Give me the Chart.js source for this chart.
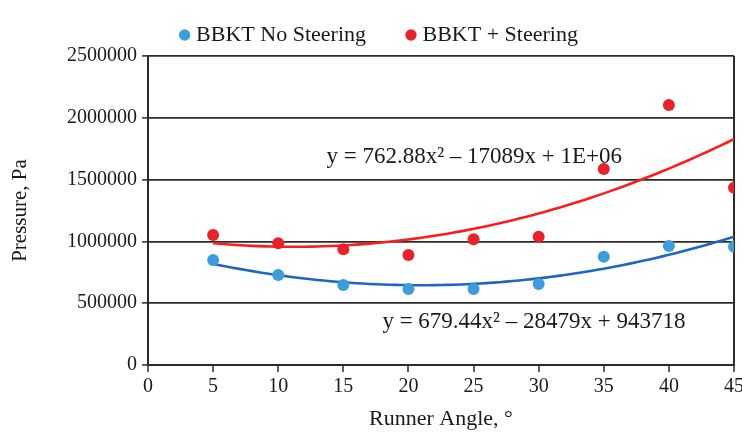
<!DOCTYPE html>
<html>
<head>
<meta charset="utf-8">
<script src="https://cdn.jsdelivr.net/npm/chart.js@4/dist/chart.umd.min.js"></script>
<style>
  html, body { margin: 0; padding: 0; background: #ffffff; }
  #wrap { width: 742px; height: 436px; }
</style>
</head>
<body>
<div id="wrap"><canvas id="chart" width="742" height="436"></canvas></div>
<script>
// Runner angle (degrees) at which pressure was measured
const runnerAngles = [5, 10, 15, 20, 25, 30, 35, 40, 45];

// Pressure, Pa
const pressureNoSteering = [850000, 728000, 647000, 615000, 615000, 655000, 876000, 963000, 957000];
const pressureSteering   = [1052000, 985000, 936000, 890000, 1017000, 1038000, 1586000, 2104000, 1435000];

// Quadratic trendline coefficients [c, b, a] for y = a*x^2 + b*x + c
const trendNoSteering = [943718, -28479, 679.44];
const trendSteering   = [1052000, -17089, 762.88];

// Trendline equation labels
const eqNoSteering = 'y = 679.44x\u00B2 \u2013 28479x + 943718';
const eqSteering   = 'y = 762.88x\u00B2 \u2013 17089x + 1E+06';

const seriesNames = ['BBKT No Steering', 'BBKT + Steering'];
const yTicks = [0, 500000, 1000000, 1500000, 2000000, 2500000];
const xTicks = [0, 5, 10, 15, 20, 25, 30, 35, 40, 45];

const BLUE_PT = '#3c9cdc';
const RED_PT = '#e8212b';
const BLUE_LN = '#1f66c2';
const RED_LN = '#fb1d1d';
const INK = '#2b2b2b';
const TEXT = '#1a1a1a';
const SERIF = "'Liberation Serif', 'Times New Roman', serif";

function points(xs, ys) {
  return xs.map((x, i) => ({ x: x, y: ys[i] }));
}

function trendPoints(coef, x0, x1) {
  const pts = [];
  for (let x = x0; x <= x1 + 1e-9; x += 0.5) {
    pts.push({ x: x, y: coef[0] + coef[1] * x + coef[2] * x * x });
  }
  return pts;
}

const xFirst = runnerAngles[0];
const xLast = runnerAngles[runnerAngles.length - 1];

// Equation text, anchored in data coordinates
const equationLabels = {
  id: 'equationLabels',
  afterDatasetsDraw(chart) {
    const { ctx, scales: { x, y } } = chart;
    ctx.save();
    ctx.font = '23px ' + SERIF;
    ctx.fillStyle = TEXT;
    ctx.textBaseline = 'middle';
    ctx.textAlign = 'left';
    ctx.fillText(eqSteering, x.getPixelForValue(13.7), y.getPixelForValue(1683000));
    ctx.fillText(eqNoSteering, x.getPixelForValue(18.0), y.getPixelForValue(348000));
    ctx.restore();
  }
};

const baseLabels = Chart.defaults.plugins.legend.labels.generateLabels;

new Chart(document.getElementById('chart'), {
  type: 'scatter',
  data: {
    datasets: [
      {
        label: seriesNames[0],
        data: points(runnerAngles, pressureNoSteering),
        backgroundColor: BLUE_PT,
        borderColor: BLUE_PT,
        pointRadius: 6,
        pointBorderWidth: 0,
        order: 0
      },
      {
        label: seriesNames[1],
        data: points(runnerAngles, pressureSteering),
        backgroundColor: RED_PT,
        borderColor: RED_PT,
        pointRadius: 6,
        pointBorderWidth: 0,
        order: 0
      },
      {
        label: 'trend-no-steering',
        type: 'line',
        data: trendPoints(trendNoSteering, xFirst, xLast),
        borderColor: BLUE_LN,
        borderWidth: 2.6,
        pointRadius: 0,
        showLine: true,
        fill: false,
        tension: 0,
        order: 1
      },
      {
        label: 'trend-steering',
        type: 'line',
        data: trendPoints(trendSteering, xFirst, xLast),
        borderColor: RED_LN,
        borderWidth: 2.6,
        pointRadius: 0,
        showLine: true,
        fill: false,
        tension: 0,
        order: 1
      }
    ]
  },
  options: {
    responsive: false,
    animation: false,
    devicePixelRatio: 1,
    layout: { padding: { left: 20, top: 0, right: 0, bottom: 0 } },
    plugins: {
      tooltip: { enabled: false },
      legend: {
        position: 'top',
        labels: {
          // only the two measured series, with a wider gap after the first
          generateLabels: (chart) => baseLabels(chart)
            .filter((item) => item.datasetIndex < 2)
            .map((item, i) => {
              if (i === 0) item.text += '\u2002\u2002\u2002 ';
              return item;
            }),
          usePointStyle: true,
          pointStyle: 'circle',
          boxWidth: 1,
          boxHeight: 8,
          padding: 6,
          color: TEXT,
          font: { family: SERIF, size: 22 }
        }
      }
    },
    scales: {
      x: {
        type: 'linear',
        min: 0,
        max: 45,
        afterBuildTicks: (s) => { s.ticks = xTicks.map(v => ({ value: v })); },
        afterFit: (s) => { s.height = 71; s.paddingLeft = 0; s.paddingRight = 8; },
        ticks: {
          color: TEXT,
          padding: 3,
          font: { family: SERIF, size: 20 },
          maxRotation: 0
        },
        grid: {
          drawOnChartArea: true,
          color: (c) => (c.tick && c.tick.value === 45 ? INK : 'rgba(0,0,0,0)'),
          lineWidth: 2,
          tickColor: INK,
          tickLength: 7,
          tickWidth: 1.5
        },
        border: { display: true, color: INK, width: 2 },
        title: {
          display: true,
          text: 'Runner Angle, \u00B0',
          color: TEXT,
          font: { family: SERIF, size: 22 },
          padding: { top: 0, bottom: 4 }
        }
      },
      y: {
        type: 'linear',
        min: 0,
        max: 2500000,
        afterBuildTicks: (s) => { s.ticks = yTicks.map(v => ({ value: v })); },
        afterFit: (s) => { s.width = 128; s.paddingTop = 56; s.paddingBottom = 0; },
        ticks: {
          color: TEXT,
          padding: 5,
          font: { family: SERIF, size: 20 },
          callback: (v) => String(v)
        },
        grid: {
          color: INK,
          lineWidth: 1.8,
          tickColor: INK,
          tickLength: 6,
          tickWidth: 1.5
        },
        border: { display: true, color: INK, width: 2 },
        title: {
          display: true,
          text: 'Pressure, Pa',
          color: TEXT,
          font: { family: SERIF, size: 21 },
          padding: { top: -12.6, bottom: 0 }
        }
      }
    }
  },
  plugins: [equationLabels]
});
</script>
</body>
</html>
